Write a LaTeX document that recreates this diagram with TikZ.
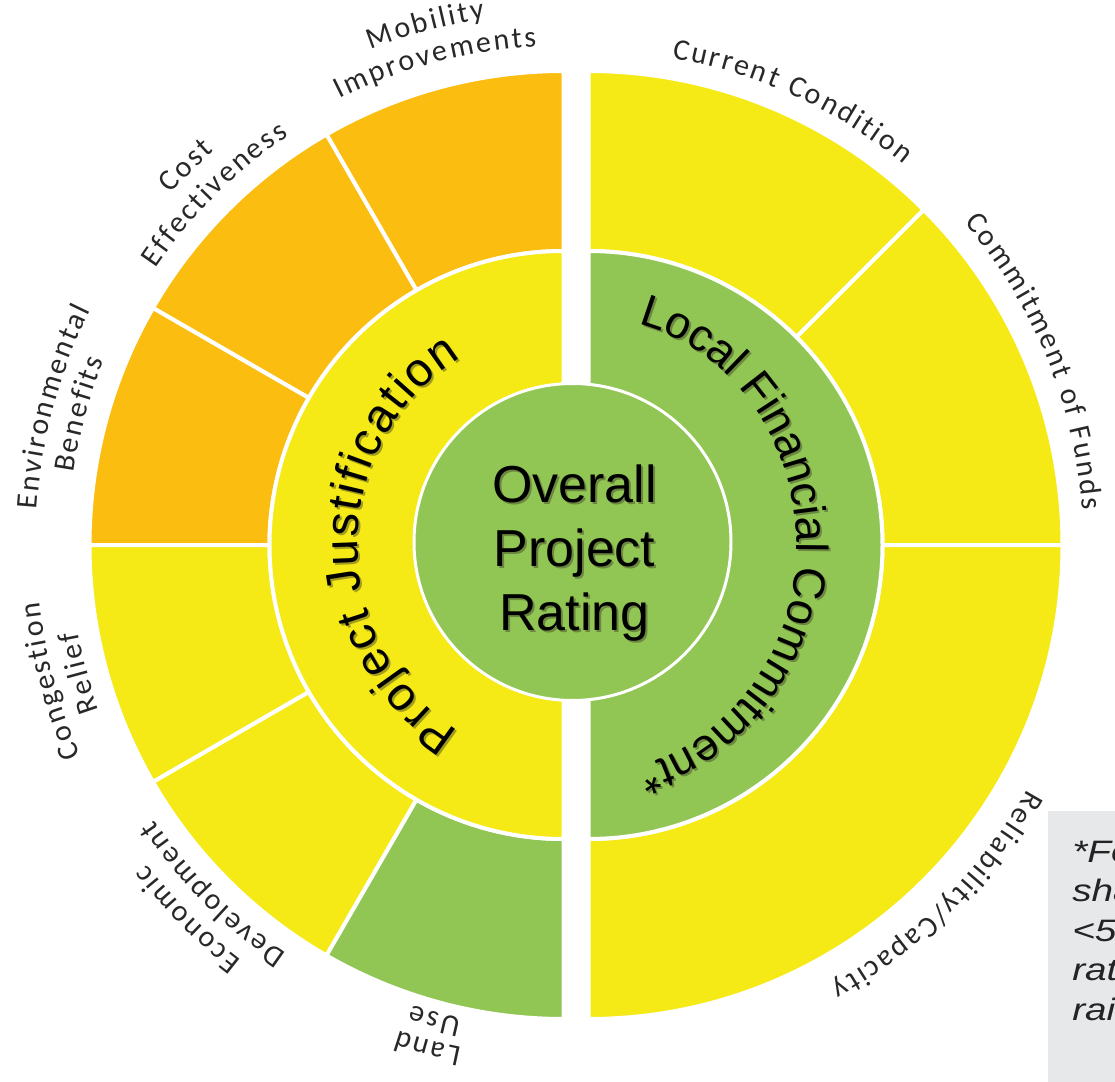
\documentclass[tikz,border=0pt]{standalone}
\usepackage{fontspec}
\usepackage{xcolor}
\usepackage{tikz}
\usetikzlibrary{calc,decorations.text}
\newfontfamily\arialfont{Liberation Sans}
\newfontfamily\calfont{Carlito}
\definecolor{segorange}{RGB}{252,189,17}
\definecolor{segyellow}{RGB}{245,234,22}
\definecolor{seggreen}{RGB}{146,198,84}
\definecolor{labelgray}{RGB}{40,40,40}
\definecolor{shadowgray}{RGB}{60,60,40}
\definecolor{notefill}{RGB}{231,232,234}
\definecolor{notetext}{RGB}{35,35,35}
\newcommand{\lblfont}{\calfont\fontsize{30}{36}\selectfont\kern2.4pt}
\newcommand{\pjfont}{\arialfont\fontsize{47}{52}\selectfont\kern2pt}
\newcommand{\lfcfont}{\arialfont\fontsize{45}{50}\selectfont}
% ring segment: centre, start, end, inner r, outer r, colour
\newcommand{\ringpart}[6]{%
  \path[seg, fill=#6] ($(#1)+(#2:#5)$) arc[start angle=#2, end angle=#3, radius=#5]
    -- ($(#1)+(#3:#4)$) arc[start angle=#3, end angle=#2, radius=#4] -- cycle;}
% one curved label line: centre, mid angle, baseline r, text
\newcommand{\arclabel}[4]{%
  \path[decorate, decoration={text along path, text align=center,
      text color=labelgray, text={|\lblfont|#4}}]
    ($(#1)+({#2+40}:#3)$) arc[start angle={#2+40}, end angle={#2-40}, radius=#3];}

\begin{document}
\begin{tikzpicture}[x=1pt,y=1pt]
    \tikzset{
      seg/.style={draw=white, line width=4pt},
      core/.style={circle, draw=white, line width=3pt, fill=seggreen, minimum size=317pt, inner sep=0pt},
      rating/.style={align=center, font=\arialfont\fontsize{52}{64}\selectfont, inner sep=0pt},
      notetxt/.style={anchor=base west, inner sep=0pt, xscale=1.25, text=notetext, font=\arialfont\itshape\fontsize{31}{38}\selectfont}
    }
    \useasboundingbox (-576,-536) rectangle (539,545);
    \clip (-576,-536) rectangle (539,545);
    \coordinate (lc) at (-12.5,0);
    \coordinate (rc) at (12.5,0);

    % project justification half
    \foreach \a/\b/\col in {90/120/segorange,120/150/segorange,150/180/segorange,
                            180/210/segyellow,210/240/segyellow,240/270/seggreen}
      \ringpart{lc}{\a}{\b}{294}{474}{\col};
    \ringpart{lc}{90}{270}{135}{294}{segyellow}
    % local financial commitment half
    \foreach \a/\b in {45/90,0/45,-90/0}
      \ringpart{rc}{\a}{\b}{294}{474}{segyellow};
    \ringpart{rc}{-90}{90}{135}{294}{seggreen}

    \node[core] (centre) at (-3.5,3) {};
    \node[rating, text=shadowgray, opacity=0.45] (ratingshadow) at (0.5,-10.5) {Overall\\Project\\Rating};
    \node[rating] (ratingtext) at (-1.5,-8.5) {Overall\\Project\\Rating};

    % curved ring titles, shadow first
    \foreach \sh/\op/\tc in {2/0.45/shadowgray,0/1/black} {
      \begin{scope}[opacity=\op]
      \path[decorate, decoration={text along path, text align=center, text color=\tc,
          text={|\pjfont|Project Justification}}]
        ($(lc)+(245:206 and 216)+(\sh,-\sh)$) arc[start angle=245, end angle=115, x radius=206, y radius=216];
      \path[decorate, decoration={text along path, text align=center, text color=\tc,
          text={|\lfcfont|Local Financial Commitment*}}]
        ($(rc)+(95:208 and 228)+(\sh,-\sh)$) arc[start angle=95, end angle=-95, x radius=208, y radius=228];
      \end{scope}
    }

    % outer labels
    \arclabel{lc}{105}{532}{Mobility}
    \arclabel{lc}{105}{499}{Improvements}
    \arclabel{lc}{135}{527}{Cost}
    \arclabel{lc}{135}{493}{Effectiveness}
    \arclabel{lc}{165}{528}{Environmental}
    \arclabel{lc}{165}{495}{Benefits}
    \arclabel{lc}{195}{527}{Congestion}
    \arclabel{lc}{195}{493}{Relief}
    \arclabel{lc}{225}{525}{Economic}
    \arclabel{lc}{225}{493}{Development}
    \arclabel{lc}{255}{513}{Land}
    \arclabel{lc}{255}{484}{Use}
    \arclabel{rc}{65.5}{494}{Current Condition}
    \arclabel{rc}{22.5}{495}{Commitment of Funds}
    \arclabel{rc}{-45}{502}{Reliability/Capacity}

    % footnote box, cut by the page edge
    \fill[notefill] (472,-266) rectangle (560,-560);
    \foreach \ln [count=\i] in {*Fo,sha,<50,rat,rai}
      \node[notetxt] (note\i) at (496,{-317-39.5*(\i-1)}) {\ln};
\end{tikzpicture}
\end{document}
